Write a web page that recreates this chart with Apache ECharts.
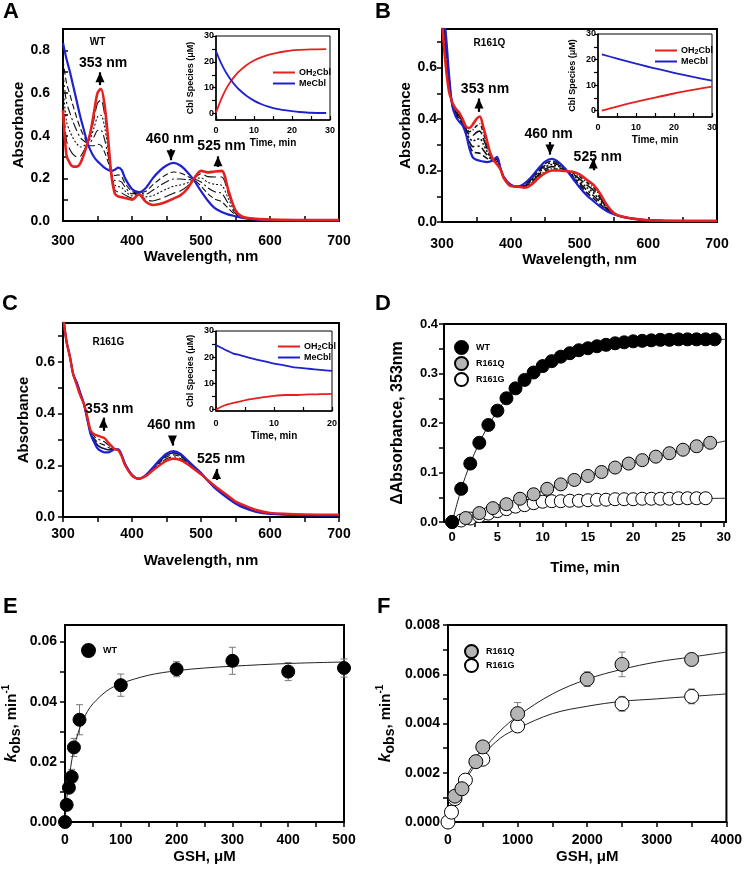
<!DOCTYPE html>
<html><head><meta charset="utf-8">
<script src="https://cdn.jsdelivr.net/npm/echarts@6/dist/echarts.min.js"></script>
<style>html,body{margin:0;padding:0;background:#fff}#c{width:745px;height:874px}</style>
</head><body><div id="c"></div>
<script>
// ---------- wavelength grid (nm) ----------
const WL = [300,305,310,315,320,325,330,335,340,345,350,355,360,365,370,375,380,385,390,400,410,420,430,440,450,460,470,480,490,500,510,520,530,540,550,560,580,600,650,700];

// ---------- Panel A (WT) spectra ----------
const A_MECBL  = [.835,.76,.70,.63,.56,.49,.43,.37,.33,.30,.28,.265,.25,.24,.235,.24,.25,.24,.20,.15,.135,.155,.20,.235,.26,.272,.26,.23,.19,.14,.095,.06,.042,.03,.022,.015,.007,.003,.002,.002];
const A_OH2CBL = [.52,.31,.27,.255,.255,.27,.31,.36,.42,.51,.60,.62,.55,.40,.22,.13,.115,.112,.108,.10,.125,.09,.075,.08,.09,.105,.12,.15,.20,.235,.228,.232,.235,.14,.05,.02,.01,.007,.005,.005];
const A_T1 = [.756,.648,.593,.536,.484,.435,.40,.368,.353,.353,.36,.354,.325,.28,.231,.213,.216,.208,.177,.138,.133,.139,.169,.196,.218,.23,.225,.21,.193,.164,.128,.103,.09,.058,.029,.016,.008,.004,.003,.003];
const A_T2 = [.693,.558,.507,.461,.423,.391,.376,.366,.371,.395,.424,.425,.385,.312,.228,.19,.189,.182,.159,.128,.131,.126,.144,.165,.184,.197,.197,.194,.195,.183,.155,.137,.129,.08,.035,.017,.008,.005,.003,.003];
const A_T3 = [.63,.468,.42,.386,.362,.347,.352,.364,.389,.437,.488,.496,.445,.344,.225,.169,.162,.157,.14,.118,.129,.113,.119,.134,.15,.163,.169,.178,.197,.202,.181,.172,.167,.102,.04,.018,.009,.006,.004,.004];
const A_T4 = [.567,.378,.335,.311,.301,.303,.328,.362,.407,.479,.552,.567,.505,.376,.222,.147,.135,.131,.122,.108,.127,.10,.094,.103,.116,.13,.141,.162,.199,.221,.208,.206,.206,.124,.046,.019,.01,.006,.004,.004];

// ---------- Panel B (R161Q) spectra ----------
const B_MECBL  = [.85,.75,.58,.45,.41,.39,.375,.34,.285,.25,.242,.238,.235,.233,.235,.242,.253,.21,.175,.145,.137,.15,.175,.207,.235,.245,.232,.205,.17,.135,.105,.082,.06,.042,.03,.022,.012,.006,.004,.004];
const B_OH2CBL = [.78,.62,.51,.465,.44,.425,.40,.37,.365,.38,.40,.41,.37,.32,.27,.24,.225,.205,.17,.14,.138,.133,.145,.17,.19,.20,.20,.198,.195,.185,.165,.145,.11,.065,.035,.022,.012,.007,.004,.004];
const B_T1 = [.838,.728,.568,.453,.415,.396,.379,.345,.299,.272,.269,.267,.258,.248,.241,.242,.248,.209,.174,.144,.137,.147,.17,.201,.227,.237,.227,.204,.174,.144,.115,.093,.069,.046,.031,.022,.012,.006,.004,.004];
const B_T2 = [.827,.707,.557,.455,.42,.402,.383,.35,.311,.293,.294,.295,.28,.262,.247,.241,.244,.208,.173,.143,.137,.144,.165,.195,.22,.23,.221,.203,.178,.152,.125,.103,.077,.05,.032,.022,.012,.006,.004,.004];
const B_T3 = [.815,.685,.545,.458,.425,.408,.388,.355,.325,.315,.321,.324,.303,.277,.253,.241,.239,.208,.173,.143,.138,.142,.16,.189,.213,.223,.216,.202,.183,.16,.135,.114,.085,.054,.033,.022,.012,.007,.004,.004];
const B_T4 = [.803,.663,.533,.46,.43,.413,.392,.36,.339,.337,.348,.353,.325,.291,.258,.241,.234,.207,.172,.142,.138,.139,.155,.182,.205,.215,.211,.20,.187,.168,.145,.124,.093,.057,.033,.022,.012,.007,.004,.004];
const B_T5 = [.792,.642,.522,.462,.435,.419,.396,.365,.351,.358,.373,.381,.347,.305,.264,.24,.23,.206,.171,.141,.138,.136,.15,.176,.197,.207,.205,.199,.191,.177,.155,.135,.102,.061,.034,.022,.012,.007,.004,.004];

// ---------- Panel C (R161G) spectra ----------
const C_MECBL  = [.78,.68,.62,.55,.52,.48,.44,.38,.32,.29,.265,.255,.25,.25,.255,.262,.262,.24,.205,.163,.148,.162,.19,.22,.245,.255,.245,.22,.195,.17,.14,.112,.09,.07,.052,.038,.02,.012,.007,.006];
const C_OH2CBL = [.78,.68,.62,.55,.51,.47,.44,.39,.335,.32,.315,.31,.305,.29,.275,.262,.258,.235,.20,.16,.148,.158,.18,.20,.218,.225,.22,.205,.185,.165,.142,.12,.10,.08,.06,.048,.027,.016,.01,.009];
const C_T1 = [.78,.68,.62,.55,.518,.478,.44,.382,.324,.298,.278,.269,.264,.26,.26,.262,.261,.239,.204,.162,.148,.161,.188,.215,.238,.248,.239,.216,.193,.169,.14,.114,.093,.073,.054,.041,.022,.013,.008,.007];
const C_T2 = [.78,.68,.62,.55,.515,.475,.44,.385,.328,.305,.29,.283,.278,.27,.265,.262,.26,.238,.203,.162,.148,.16,.185,.21,.232,.24,.233,.213,.19,.168,.141,.116,.095,.075,.056,.043,.024,.014,.009,.008];
const C_T3 = [.78,.68,.62,.55,.513,.473,.44,.388,.331,.313,.303,.296,.291,.28,.27,.262,.259,.236,.201,.161,.148,.159,.183,.205,.225,.233,.226,.209,.188,.166,.141,.118,.098,.078,.058,.046,.025,.015,.009,.008];

// ---------- Insets: Cbl species (µM) vs time (min) ----------
const IA_T = [0,1,2,3,4,5,6,8,10,12,14,16,18,20,22,25,29];
const IA_OH2CBL = [0.3,4.2,7.6,10.4,12.7,14.6,16.2,18.7,20.5,21.8,22.8,23.5,24.0,24.4,24.6,24.8,24.9];
const IA_MECBL  = [24.2,20.6,17.6,15.0,12.9,11.0,9.4,6.9,5.0,3.6,2.6,1.8,1.3,0.9,0.6,0.3,0.2];
const IB_T = [1,5,10,15,20,25,30];
const IB_OH2CBL = [0,1.6,3.4,5.1,6.7,8.1,9.4];
const IB_MECBL  = [22.0,20.4,18.4,16.5,14.8,13.2,11.7];
const IC_T = [0,1,2,3,4,6,8,10,12,14,16,18,20];
const IC_OH2CBL = [0,1.2,2.0,2.6,3.1,4.0,4.7,5.3,5.6,5.6,5.8,5.9,6.0];
const IC_MECBL  = [24.6,23.5,22.4,21.4,20.9,19.7,18.6,17.6,16.8,16.0,15.6,15.2,14.8];

// ---------- Panel D: ΔAbsorbance at 353 nm vs time ----------
const D_WT_T = [0,1,2,3,4,5,6,7,8,9,10,11,12,13,14,15,16,17,18,19,20,21,22,23,24,25,26,27,28,29];
const D_WT_Y = [0,.067,.118,.16,.196,.225,.25,.27,.287,.302,.315,.325,.334,.341,.347,.351,.355,.358,.361,.363,.365,.366,.367,.368,.368,.369,.369,.369,.369,.369];
const D_Q_T = [0,1.5,3,4.5,6,7.5,9,10.5,12,13.5,15,16.5,18,19.5,21,22.5,24,25.5,27,28.5];
const D_Q_Y = [0,.008,.018,.028,.036,.047,.056,.067,.076,.085,.093,.101,.11,.118,.125,.132,.139,.146,.153,.16];
const D_G_T = [1,2,3,4,5,6,7,8,9,10,11,12,13,14,15,16,17,18,19,20,21,22,23,24,25,26,27,28];
const D_G_Y = [.003,.007,.012,.017,.022,.026,.031,.034,.038,.041,.042,.042,.043,.043,.044,.045,.045,.046,.046,.046,.047,.047,.047,.047,.048,.048,.048,.048];
const D_WT_FIT_T = [0,1,2,3,4,5,6,7,8,9,10,12,14,16,18,20,23,26,30.25];
const D_WT_FIT_Y = [0,.066,.118,.16,.195,.224,.249,.27,.287,.302,.314,.333,.346,.355,.361,.364,.367,.368,.369];
const D_Q_FIT_T = [0,3,6,9,12,15,18,21,24,27,30.25];
const D_Q_FIT_Y = [0,.017,.036,.056,.075,.093,.109,.124,.138,.151,.164];
const D_G_FIT_T = [0,2,4,6,8,10,12,15,20,25,30.25];
const D_G_FIT_Y = [0,.007,.017,.026,.034,.039,.042,.044,.046,.047,.048];

// ---------- Panel E: kobs vs [GSH], WT ----------
const E_X   = [0,3,7,12,16,26,100,200,300,400,500];
const E_Y   = [0,.0057,.0114,.015,.0248,.034,.0455,.0508,.0536,.050,.0512];
const E_ERR = [0,.0005,.001,.0025,.003,.005,.0037,.0025,.0045,.003,.003];
const E_FIT_X = [0,3,6,10,15,20,30,40,50,75,100,150,200,250,300,400,500];
const E_FIT_Y = [0,.0075,.0125,.018,.0235,.0275,.033,.0367,.0393,.0436,.046,.0488,.0503,.0512,.0518,.0527,.0532];

// ---------- Panel F: kobs vs [GSH], R161Q / R161G ----------
const F_Q_X = [100,200,400,500,1000,2000,2500,3500];
const F_Q_Y = [.00105,.00135,.00245,.00305,.0044,.0058,.0064,.0066];
const F_Q_ERR = [0,0,0,0,.00045,.0003,.0005,.0001];
const F_G_X = [0,50,100,250,500,1000,2500,3500];
const F_G_Y = [0,.0004,.00095,.0017,.00255,.0039,.0048,.0051];
const F_G_ERR = [0,0,0,0,0,.0001,.0003,.0003];
const F_Q_FIT_X = [0,100,250,500,750,1000,1500,2000,2500,3000,3500,4000];
const F_Q_FIT_Y = [.0004,.001,.0018,.0029,.0037,.0043,.0052,.0058,.0062,.0065,.0067,.0069];
const F_G_FIT_X = [0,100,250,500,750,1000,1500,2000,2500,3000,3500,4000];
const F_G_FIT_Y = [0,.0008,.0017,.0027,.0034,.0038,.0044,.0047,.0049,.0050,.0051,.0052];

// ---------- tick values ----------
const WL_TICKS = [300,350,400,450,500,550,600,650,700];
const WL_LABELS = [300,400,500,600,700];
const ABS_TICKS_A = [0,.1,.2,.3,.4,.5,.6,.7,.8,.9];
const ABS_TICKS_BC = [0,.1,.2,.3,.4,.5,.6,.7];
const ABS_LABELS_A = [0,.2,.4,.6,.8];
const ABS_LABELS_BC = [0,.2,.4,.6];
const INS_Y_TICKS = [0,5,10,15,20,25,30];
const INS_Y_LABELS = [0,10,20,30];
const INS_X30_TICKS = [0,5,10,15,20,25,30];
const INS_X30_LABELS = [0,10,20,30];
const INS_X20_TICKS = [0,5,10,15,20];
const INS_X20_LABELS = [0,10,20];
const D_X_TICKS = [0,2.5,5,7.5,10,12.5,15,17.5,20,22.5,25,27.5,30];
const D_X_LABELS = [0,5,10,15,20,25,30];
const D_Y_TICKS = [0,.05,.1,.15,.2,.25,.3,.35,.4];
const D_Y_LABELS = [0,.1,.2,.3,.4];
const E_X_TICKS = [0,50,100,150,200,250,300,350,400,450,500];
const E_X_LABELS = [0,100,200,300,400,500];
const E_Y_TICKS = [0,.01,.02,.03,.04,.05,.06];
const E_Y_LABELS = [0,.02,.04,.06];
const F_X_TICKS = [0,500,1000,1500,2000,2500,3000,3500,4000];
const F_X_LABELS = [0,1000,2000,3000,4000];
const F_Y_TICKS = [0,.001,.002,.003,.004,.005,.006,.007,.008];
const F_Y_LABELS = [0,.002,.004,.006,.008];

// ---------- helpers ----------
const FONT = "'Liberation Sans', Arial, Helvetica, sans-serif";
const RED = '#e5201f', BLUE = '#1f20cf';
const zip = (xs, ys) => xs.map((x, i) => [x, ys[i]]);
const zip3 = (xs, ys, es) => xs.map((x, i) => [x, ys[i] - es[i], ys[i] + es[i], es[i]]).filter(d => d[3] > 0);

function axis(o) {
  return {
    type: 'value', gridIndex: o.g, min: o.min, max: o.max,
    name: o.name || '', nameLocation: 'middle', nameGap: o.gap || 20, nameRotate: o.rot || 0,
    nameTextStyle: Object.assign({fontFamily: FONT, fontWeight: 'bold', fontSize: o.nfs || 15, color: '#000'}, o.nts || {}),
    axisLine: {show: true, onZero: false, lineStyle: {color: '#000', width: o.lw || 2}},
    axisTick: {show: true, inside: !!o.inside, length: o.tl || 5, customValues: o.ticks, lineStyle: {color: '#000', width: o.tw || 1.5}},
    axisLabel: {customValues: o.labels, margin: o.margin || 8, fontFamily: FONT, fontWeight: 'bold', fontSize: o.fs || 14, color: '#000',
      formatter: v => (o.dec === undefined ? String(v) : Number(v).toFixed(o.dec))},
    splitLine: {show: false}
  };
}
function grid(l, t, w, h, bw) {
  return {left: l, top: t, width: w, height: h, show: true, borderColor: '#000', borderWidth: bw || 2, backgroundColor: 'transparent'};
}
function line(name, xi, data, color, width, type, z) {
  return {name, type: 'line', xAxisIndex: xi, yAxisIndex: xi, data, symbol: 'none', smooth: 0.3, clip: true,
    lineStyle: {color, width, type: type || 'solid'}, itemStyle: {color}, z: z || 2, silent: true, animation: false};
}
function annot(text, coord, fs) {
  return {coord, value: text, symbol: 'circle', symbolSize: 0,
    label: {show: true, position: 'inside', formatter: text, fontFamily: FONT, fontWeight: 'bold', fontSize: fs || 14, color: '#000'}};
}
// arrow: shaft from y0 to tip, head drawn as triangle whose tip sits at the tip coordinate
function head(x, tip, up) {
  return {coord: [x, tip], symbol: 'triangle', symbolSize: [9, 10], symbolRotate: up ? 0 : 180,
    symbolOffset: [0, up ? 5 : -5], itemStyle: {color: '#000'}, label: {show: false}};
}
function markers(texts, arrows) {
  const heads = arrows.map(a => head(a[0], a[2], a[2] > a[1]));
  const shafts = arrows.map(a => [{coord: [a[0], a[1]]}, {coord: [a[0], a[2]]}]);
  return {
    markPoint: {silent: true, data: texts.concat(heads), animation: false},
    markLine: {silent: true, symbol: ['none', 'none'], animation: false,
      lineStyle: {color: '#000', width: 2.2, type: 'solid'}, label: {show: false}, data: shafts}
  };
}
function errbars(name, xi, data) {
  return {name, type: 'custom', xAxisIndex: xi, yAxisIndex: xi, data, z: 1, silent: true, animation: false,
    encode: {x: 0, y: [1, 2]},
    renderItem: (params, api) => {
      const x = api.value(0);
      const lo = api.coord([x, api.value(1)]);
      const hi = api.coord([x, api.value(2)]);
      const w = 3.5, st = {stroke: '#7a7a7a', lineWidth: 1};
      return {type: 'group', children: [
        {type: 'line', shape: {x1: lo[0], y1: lo[1], x2: hi[0], y2: hi[1]}, style: st},
        {type: 'line', shape: {x1: lo[0] - w, y1: lo[1], x2: lo[0] + w, y2: lo[1]}, style: st},
        {type: 'line', shape: {x1: hi[0] - w, y1: hi[1], x2: hi[0] + w, y2: hi[1]}, style: st}
      ]};
    }};
}
function scatter(name, xi, data, fill, size, z) {
  return {name, type: 'scatter', xAxisIndex: xi, yAxisIndex: xi, data, symbol: 'circle', symbolSize: size || 13, clip: false,
    itemStyle: {color: fill, borderColor: '#000', borderWidth: 1, opacity: 1}, z: z || 3, silent: true, animation: false};
}
function fit(name, xi, data) {
  return {name, type: 'line', xAxisIndex: xi, yAxisIndex: xi, data, symbol: 'none', smooth: 0.35, clip: true,
    lineStyle: {color: '#222', width: 1}, z: 2, silent: true, animation: false};
}

const grids = [
  grid(63, 29, 276, 192),     // 0 A
  grid(442, 29, 275, 193),    // 1 B
  grid(63, 323, 276, 194),    // 2 C
  grid(444, 324, 282, 198),   // 3 D
  grid(65, 625, 279, 197),    // 4 E
  grid(448, 625, 280, 197),   // 5 F
  grid(216, 36, 114, 84, 1),  // 6 inset A
  grid(598, 34, 114, 83, 1),  // 7 inset B
  grid(216, 331, 116, 80, 1)  // 8 inset C
];

const wlX = (g, margin, gap) => axis({g, min: 300, max: 700, ticks: WL_TICKS, labels: WL_LABELS, inside: true, margin, name: 'Wavelength, nm', gap});
const xAxes = [
  wlX(0, 13, 24),
  wlX(1, 15, 26),
  axis({g: 2, min: 300, max: 700, ticks: WL_TICKS, labels: WL_LABELS, inside: false, margin: 10, name: 'Wavelength, nm', gap: 36}),
  axis({g: 3, min: -0.9, max: 30.25, ticks: D_X_TICKS, labels: D_X_LABELS, inside: false, margin: 9, fs: 13, name: 'Time, min', gap: 38}),
  axis({g: 4, min: 0, max: 500, ticks: E_X_TICKS, labels: E_X_LABELS, inside: false, margin: 11, name: 'GSH, \u03bcM', gap: 27}),
  axis({g: 5, min: 0, max: 4000, ticks: F_X_TICKS, labels: F_X_LABELS, inside: false, margin: 11, name: 'GSH, \u03bcM', gap: 27}),
  axis({g: 6, min: 0, max: 30, ticks: INS_X30_TICKS, labels: INS_X30_LABELS, inside: true, tl: 4, tw: 1.2, lw: 1.5, margin: 6, fs: 9, name: 'Time, min', nfs: 10, gap: 18}),
  axis({g: 7, min: 0, max: 30, ticks: INS_X30_TICKS, labels: INS_X30_LABELS, inside: true, tl: 4, tw: 1.2, lw: 1.5, margin: 6, fs: 9, name: 'Time, min', nfs: 10, gap: 18}),
  axis({g: 8, min: 0, max: 20, ticks: INS_X20_TICKS, labels: INS_X20_LABELS, inside: true, tl: 4, tw: 1.2, lw: 1.5, margin: 8, fs: 9, name: 'Time, min', nfs: 10, gap: 20})
];
const kobsName = '{k|k}{s|obs}{n|, min}{p|-1}';
const kobsRich = {rich: {
  k: {fontStyle: 'italic', fontWeight: 'bold', fontSize: 16, fontFamily: FONT, lineHeight: 22, verticalAlign: 'middle'},
  s: {fontWeight: 'bold', fontSize: 14, fontFamily: FONT, lineHeight: 22, verticalAlign: 'bottom'},
  n: {fontWeight: 'bold', fontSize: 15, fontFamily: FONT, lineHeight: 22, verticalAlign: 'middle'},
  p: {fontWeight: 'bold', fontSize: 10, fontFamily: FONT, lineHeight: 22, verticalAlign: 'top'}
}};
const yAxes = [
  axis({g: 0, min: 0, max: 0.9, ticks: ABS_TICKS_A, labels: ABS_LABELS_A, inside: true, margin: 13, dec: 1, name: 'Absorbance', rot: 90, gap: 35}),
  axis({g: 1, min: 0, max: 0.75, ticks: ABS_TICKS_BC, labels: ABS_LABELS_BC, inside: false, margin: 5, dec: 1, name: 'Absorbance', rot: 90, gap: 28}),
  axis({g: 2, min: 0, max: 0.75, ticks: ABS_TICKS_BC, labels: ABS_LABELS_BC, inside: false, margin: 8, dec: 1, name: 'Absorbance', rot: 90, gap: 31}),
  axis({g: 3, min: 0, max: 0.4, ticks: D_Y_TICKS, labels: D_Y_LABELS, inside: false, margin: 6, fs: 13, dec: 1, name: '\u0394Absorbance, 353nm', rot: 90, gap: 38, nfs: 16}),
  axis({g: 4, min: 0, max: 0.0655, ticks: E_Y_TICKS, labels: E_Y_LABELS, inside: false, margin: 8, dec: 2, name: kobsName, rot: 90, gap: 42, nts: kobsRich}),
  axis({g: 5, min: 0, max: 0.008, ticks: F_Y_TICKS, labels: F_Y_LABELS, inside: false, margin: 8, dec: 3, name: kobsName, rot: 90, gap: 51, nts: kobsRich}),
  axis({g: 6, min: -2.5, max: 30, ticks: INS_Y_TICKS, labels: INS_Y_LABELS, inside: false, tl: 4, tw: 1.2, lw: 1.5, margin: 2, fs: 9, name: 'Cbl Species (\u03bcM)', nfs: 9, rot: 90, gap: 21}),
  axis({g: 7, min: -2.5, max: 30, ticks: INS_Y_TICKS, labels: INS_Y_LABELS, inside: false, tl: 4, tw: 1.2, lw: 1.5, margin: 2, fs: 9, name: 'Cbl Species (\u03bcM)', nfs: 9, rot: 90, gap: 21}),
  axis({g: 8, min: -0.5, max: 30, ticks: INS_Y_TICKS, labels: INS_Y_LABELS, inside: false, tl: 4, tw: 1.2, lw: 1.5, margin: 2, fs: 9, name: 'Cbl Species (\u03bcM)', nfs: 9, rot: 90, gap: 21})
];

const dashes = [[6, 3], [9, 3, 2, 3], [2, 2], [12, 4], [4, 2, 1, 2]];
const series = [];
// Panel A
[A_T1, A_T2, A_T3, A_T4].forEach((d, i) => series.push(line('A_mid' + i, 0, zip(WL, d), '#111', 1.1, dashes[i])));
series.push(line('A_MeCbl', 0, zip(WL, A_MECBL), BLUE, 2.2, 'solid', 3));
series.push(Object.assign(line('A_OH2Cbl', 0, zip(WL, A_OH2CBL), RED, 2.6, 'solid', 4), markers(
  [annot('WT', [350, 0.838], 10), annot('353 nm', [358, 0.74]), annot('460 nm', [455, 0.384]), annot('525 nm', [529.7, 0.351])],
  [[353.6, 0.637, 0.697], [456.5, 0.337, 0.285], [524.6, 0.253, 0.303]])));
// Panel B
[B_T1, B_T2, B_T3, B_T4, B_T5].forEach((d, i) => series.push(line('B_mid' + i, 1, zip(WL, d), '#111', 1.6, dashes[i])));
series.push(line('B_MeCbl', 1, zip(WL, B_MECBL), BLUE, 2.2, 'solid', 3));
series.push(Object.assign(line('B_OH2Cbl', 1, zip(WL, B_OH2CBL), RED, 2.6, 'solid', 4), markers(
  [annot('R161Q', [369, 0.694], 10), annot('353 nm', [362.5, 0.515]), annot('460 nm', [455, 0.341]), annot('525 nm', [526.5, 0.253])],
  [[353.8, 0.428, 0.48], [457, 0.311, 0.262], [520, 0.201, 0.247]])));
// Panel C
series.push(line('C_mid0', 2, zip(WL, C_T1), '#15154a', 1.6, 'solid'));
series.push(line('C_mid1', 2, zip(WL, C_T2), '#111', 1.1, dashes[0]));
series.push(line('C_mid2', 2, zip(WL, C_T3), '#111', 1.1, dashes[1]));
series.push(line('C_MeCbl', 2, zip(WL, C_MECBL), BLUE, 2.2, 'solid', 3));
series.push(Object.assign(line('C_OH2Cbl', 2, zip(WL, C_OH2CBL), RED, 2.4, 'solid', 4), markers(
  [annot('R161G', [365.7, 0.677], 10), annot('353 nm', [367, 0.417]), annot('460 nm', [457, 0.355]), annot('525 nm', [529, 0.225])],
  [[358.5, 0.333, 0.384], [458.6, 0.3125, 0.276], [522.5, 0.143, 0.186]])));
// Insets
series.push(line('OH2Cbl', 6, zip(IA_T, IA_OH2CBL), RED, 1.8, 'solid', 5));
series.push(line('MeCbl', 6, zip(IA_T, IA_MECBL), BLUE, 1.8, 'solid', 5));
series.push(line('OH2Cbl', 7, zip(IB_T, IB_OH2CBL), RED, 1.8, 'solid', 5));
series.push(line('MeCbl', 7, zip(IB_T, IB_MECBL), BLUE, 1.8, 'solid', 5));
series.push(line('OH2Cbl', 8, zip(IC_T, IC_OH2CBL), RED, 1.8, 'solid', 5));
series.push(line('MeCbl', 8, zip(IC_T, IC_MECBL), BLUE, 1.8, 'solid', 5));
// Panel D
series.push(fit('D_WT_fit', 3, zip(D_WT_FIT_T, D_WT_FIT_Y)));
series.push(fit('D_Q_fit', 3, zip(D_Q_FIT_T, D_Q_FIT_Y)));
series.push(fit('D_G_fit', 3, zip(D_G_FIT_T, D_G_FIT_Y)));
series.push(scatter('R161G', 3, zip(D_G_T, D_G_Y), '#ffffff', 13, 3));
series.push(scatter('R161Q', 3, zip(D_Q_T, D_Q_Y), '#b5b5b5', 13, 4));
series.push(scatter('WT', 3, zip(D_WT_T, D_WT_Y), '#000000', 13, 5));
// Panel E
series.push(fit('E_fit', 4, zip(E_FIT_X, E_FIT_Y)));
series.push(errbars('E_err', 4, zip3(E_X, E_Y, E_ERR)));
series.push(scatter('WT', 4, zip(E_X, E_Y), '#000000', 13, 4));
// Panel F
series.push(fit('F_Q_fit', 5, zip(F_Q_FIT_X, F_Q_FIT_Y)));
series.push(fit('F_G_fit', 5, zip(F_G_FIT_X, F_G_FIT_Y)));
series.push(errbars('F_Q_err', 5, zip3(F_Q_X, F_Q_Y, F_Q_ERR)));
series.push(errbars('F_G_err', 5, zip3(F_G_X, F_G_Y, F_G_ERR)));
series.push(scatter('R161G', 5, zip(F_G_X, F_G_Y), '#ffffff', 14, 3));
series.push(scatter('R161Q', 5, zip(F_Q_X, F_Q_Y), '#b5b5b5', 14, 4));

const insetLegend = (left, top) => ({
  data: ['OH2Cbl', 'MeCbl'], left, top, orient: 'vertical', icon: 'rect', itemWidth: 22, itemHeight: 2, itemGap: 1, selectedMode: false,
  formatter: n => n === 'OH2Cbl' ? '{b|OH}{s|2}{b|Cbl}' : '{b|MeCbl}',
  textStyle: {fontFamily: FONT, fontWeight: 'bold', fontSize: 9, color: '#000', padding: [0, 0, 0, -1],
    rich: {b: {fontFamily: FONT, fontWeight: 'bold', fontSize: 9, lineHeight: 11}, s: {fontFamily: FONT, fontWeight: 'bold', fontSize: 7, lineHeight: 11, verticalAlign: 'bottom', padding: [4, 0, 0, 0]}}}
});
const dotLegend = (data, left, top, gap) => ({
  data, left, top, orient: 'vertical', icon: 'circle', itemWidth: 13, itemHeight: 13, itemGap: gap, selectedMode: false,
  textStyle: {fontFamily: FONT, fontWeight: 'bold', fontSize: 9, color: '#000', padding: [0, 0, 0, 3]}
});

const letter = (t, left, top) => ({type: 'text', left, top, style: {text: t, font: 'bold 22px ' + FONT, fill: '#000'}});

const chart = echarts.init(document.getElementById('c'), null, {renderer: 'canvas'});
chart.setOption({
  animation: false,
  backgroundColor: '#fff',
  grid: grids, xAxis: xAxes, yAxis: yAxes, series,
  legend: [
    insetLegend(268, 62), insetLegend(650, 40), insetLegend(273, 336),
    dotLegend(['WT', 'R161Q', 'R161G'], 449, 335, 1),
    dotLegend(['WT'], 76, 638, 1),
    dotLegend(['R161Q', 'R161G'], 459, 639, -1)
  ],
  graphic: [letter('A', 3, 1), letter('B', 375, 1), letter('C', 2, 293), letter('D', 375, 293), letter('E', 3, 596), letter('F', 377, 596)]
});
</script></body></html>
